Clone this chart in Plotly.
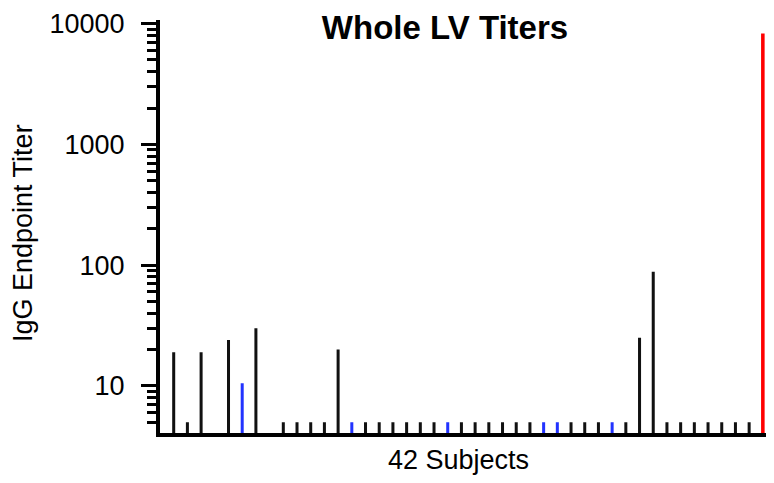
import plotly.graph_objects as go

# ---- data ----
subjects = list(range(1, 45))
titers = [19, 5, 19, None, 24, 10.5, 30, None,
          5, 5, 5, 5, 20, 5, 5, 5, 5, 5, 5, 5, 5,
          5, 5, 5, 5, 5, 5, 5, 5, 5, 5, 5, 5, 5,
          25, 88, 5, 5, 5, 5, 5, 5, 5, 8300]
groups = ["k", "k", "k", "k", "k", "b", "k", "k",
          "k", "k", "k", "k", "k", "b", "k", "k", "k", "k", "k", "k", "b",
          "k", "k", "k", "k", "k", "k", "b", "b", "k", "k", "k", "b", "k",
          "k", "k", "k", "k", "k", "k", "k", "k", "k", "r"]
y_tickvals = [10, 100, 1000, 10000]
y_ticktext = ["10", "100", "1000", "10000"]

palette = {"k": "#111111", "b": "#2233ff", "r": "#ff0000"}
colors = [palette[g] for g in groups]
widths = [0.26 if g == "r" else 0.22 for g in groups]

fig = go.Figure(go.Bar(x=subjects, y=titers, width=widths,
                       marker=dict(color=colors, line=dict(width=0))))

# the page body adds an 8px margin, so the figure is shrunk to fit the window
W, H = 758, 467
L, R, T, B = 152, 0, 12, 42
PW, PH = W - L - R, H - T - B
FONT = "Liberation Sans, Arial, sans-serif"
fig.update_layout(
    width=W, height=H,
    margin=dict(l=L, r=R, t=T, b=B, autoexpand=False),
    paper_bgcolor="white", plot_bgcolor="white",
    showlegend=False,
    font=dict(family=FONT, color="black"),
    title=dict(text="<b>Whole LV Titers</b>", x=437 / W, xanchor="center",
               xref="container", y=1 - 19 / H, yanchor="middle",
               yref="container", font=dict(size=33, family=FONT, color="black")),
    annotations=[
        dict(text="42 Subjects", xref="paper", yref="paper",
             x=(450 - L) / PW, y=-(452 - T - PH) / PH, xanchor="center",
             yanchor="middle", showarrow=False, font=dict(size=27)),
        dict(text="IgG Endpoint Titer", xref="paper", yref="paper", textangle=-90,
             x=(15 - L) / PW, y=1 - (225 - T) / PH, xanchor="center",
             yanchor="middle", showarrow=False, font=dict(size=27)),
    ],
)
fig.update_xaxes(range=[0, 44.23], showline=True, linewidth=4, linecolor="black",
                 showticklabels=False, ticks="", showgrid=False, zeroline=False,
                 automargin=False)
fig.update_yaxes(type="log", range=[0.61, 4.03], showline=True, linewidth=4,
                 linecolor="black", showgrid=False, zeroline=False, automargin=False,
                 tickmode="array", tickvals=y_tickvals, ticktext=y_ticktext,
                 ticks="outside", ticklen=15, tickwidth=3, tickcolor="black",
                 tickfont=dict(size=27), ticklabelstandoff=11,
                 minor=dict(ticks="outside", ticklen=9, tickwidth=3, tickcolor="black",
                            dtick="D1", showgrid=False))

fig.write_html("out.html")
